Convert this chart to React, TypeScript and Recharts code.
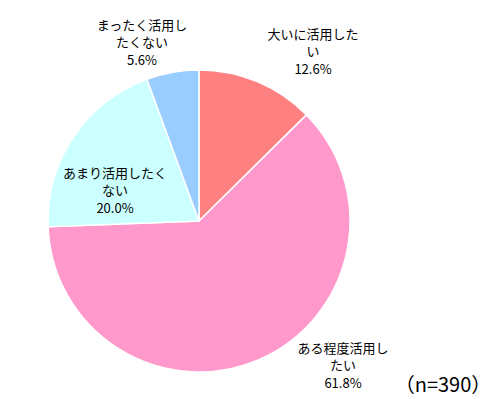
import React from 'react';
import { PieChart, Pie, Cell } from 'recharts';

const categories = ['大いに活用したい', 'ある程度活用したい', 'あまり活用したくない', 'まったく活用したくない'];
const labelLines = [
  ['大いに活用した', 'い'],
  ['ある程度活用し', 'たい'],
  ['あまり活用したく', 'ない'],
  ['まったく活用し', 'たくない'],
];
const values = [12.6, 61.8, 20.0, 5.6];
const colors = ['#FF8080', '#FF99CC', '#CCFFFF', '#99CCFF'];
const labelOffsets = [
  [114, -188],
  [144, 126],
  [-84, -49],
  [-57, -197],
];
const note = '（n=390）';

const data = categories.map((name, i) => ({ name, value: values[i] }));

const FONT = '"Noto Sans CJK JP", "Noto Sans", sans-serif';

const renderLabel = (props: any) => {
  const { cx, cy, index, value } = props;
  const [dx, dy] = labelOffsets[index];
  const lines = [...labelLines[index], `${value.toFixed(1)}%`];
  return (
    <text
      x={cx + dx}
      y={cy + dy}
      textAnchor="middle"
      fill="#000"
      fontSize={13}
      fontFamily={FONT}
    >
      {lines.map((l, i) => (
        <tspan key={i} x={cx + dx} y={cy + dy + i * 17.5} dominantBaseline="central">
          {l}
        </tspan>
      ))}
    </text>
  );
};

export default function App() {
  return (
    <div style={{ position: 'absolute', left: 0, top: 0, width: 500, height: 399, background: '#fff' }}>
      <PieChart width={500} height={399} margin={{ top: 0, right: 0, bottom: 0, left: 0 }}>
        <Pie
          data={data}
          dataKey="value"
          cx={199}
          cy={221}
          outerRadius={151}
          startAngle={90}
          endAngle={-270}
          stroke="#fff"
          strokeWidth={1.5}
          label={renderLabel}
          labelLine={false}
          isAnimationActive={false}
        >
          {data.map((d, i) => (
            <Cell key={d.name} fill={colors[i]} />
          ))}
        </Pie>
        <text x={443} y={383} textAnchor="middle" dominantBaseline="central" fontSize={20} fontFamily={FONT} fill="#000">
          {note}
        </text>
      </PieChart>
    </div>
  );
}
